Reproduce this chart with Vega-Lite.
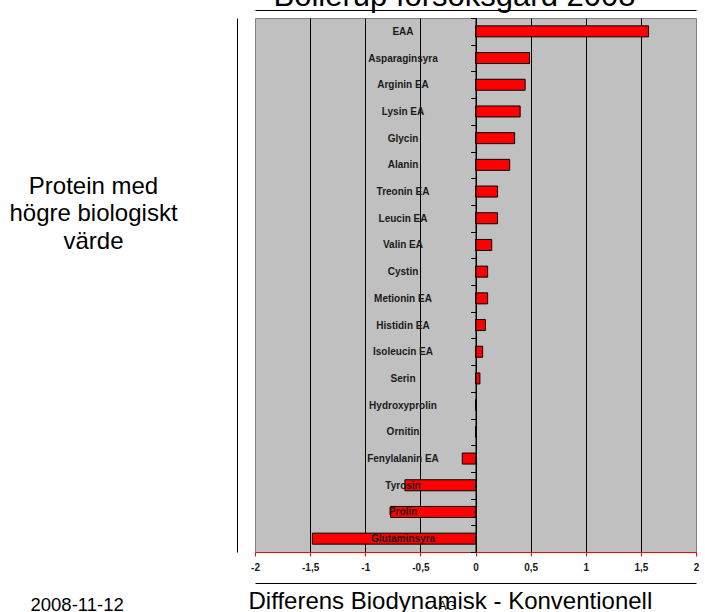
{
  "$schema": "https://vega.github.io/schema/vega-lite/v6.json",
  "width": 441,
  "height": 534,
  "autosize": {"type": "none"},
  "padding": {"left": 255, "top": 18, "right": 9, "bottom": 60},
  "background": "white",
  "config": {
    "view": {"fill": "#c0c0c0", "stroke": "#808080", "strokeWidth": 1},
    "font": "Liberation Sans"
  },
  "layer": [
    {
      "data": {
        "values": [
          {"aminosyra": "EAA", "differens": 1.57},
          {"aminosyra": "Asparaginsyra", "differens": 0.49},
          {"aminosyra": "Arginin EA", "differens": 0.45},
          {"aminosyra": "Lysin EA", "differens": 0.405},
          {"aminosyra": "Glycin", "differens": 0.355},
          {"aminosyra": "Alanin", "differens": 0.31},
          {"aminosyra": "Treonin EA", "differens": 0.2},
          {"aminosyra": "Leucin EA", "differens": 0.2},
          {"aminosyra": "Valin EA", "differens": 0.147},
          {"aminosyra": "Cystin", "differens": 0.11},
          {"aminosyra": "Metionin EA", "differens": 0.11},
          {"aminosyra": "Histidin EA", "differens": 0.09},
          {"aminosyra": "Isoleucin EA", "differens": 0.065},
          {"aminosyra": "Serin", "differens": 0.04},
          {"aminosyra": "Hydroxyprolin", "differens": 0},
          {"aminosyra": "Ornitin", "differens": 0},
          {"aminosyra": "Fenylalanin EA", "differens": -0.12},
          {"aminosyra": "Tyrosin", "differens": -0.64},
          {"aminosyra": "Prolin", "differens": -0.77},
          {"aminosyra": "Glutaminsyra", "differens": -1.48}
        ]
      },
      "mark": {"type": "bar", "fill": "#ff0000", "stroke": "black", "strokeWidth": 1, "size": 11},
      "encoding": {
        "y": {
          "field": "aminosyra",
          "type": "nominal",
          "sort": null,
          "scale": {"paddingInner": 0, "paddingOuter": 0},
          "axis": {
            "orient": "left",
            "offset": -220.5,
            "zindex": 1,
            "domainColor": "black",
            "domainWidth": 1,
            "tickBand": "extent",
            "tickColor": "black",
            "tickSize": 5,
            "labelFontSize": 10,
            "labelFontWeight": "bold",
            "labelColor": "#1a1a1a",
            "labelAlign": "center",
            "labelBaseline": "middle",
            "labelPadding": 68,
            "grid": false,
            "encode": {
              "labels": {
                "update": {
                  "dx": {"signal": "datum.value === 'EAA' ? 55 : (datum.value === 'Hydroxyprolin' ? 28 : 0)"}
                }
              }
            },
            "title": ["Protein med", "högre biologiskt", "värde"],
            "titleAngle": 0,
            "titleX": -382.5,
            "titleY": 175,
            "titleAlign": "center",
            "titleBaseline": "alphabetic",
            "titleFontSize": 24,
            "titleFontWeight": "normal",
            "titleColor": "black",
            "titleLineHeight": 27.5
          }
        },
        "x": {
          "field": "differens",
          "type": "quantitative",
          "scale": {"domain": [-2, 2], "nice": false, "zero": false},
          "axis": {
            "values": [-2, -1.5, -1, -0.5, 0, 0.5, 1, 1.5, 2],
            "labelExpr": "replace(toString(datum.value), '.', ',')",
            "labelFlush": false,
            "domainColor": "#ff0000",
            "tickColor": "#ff0000",
            "tickSize": 4,
            "labelFontSize": 10,
            "labelFontWeight": "bold",
            "labelColor": "#1a1a1a",
            "labelPadding": 6,
            "grid": true,
            "gridColor": "black",
            "gridWidth": 1,
            "gridOpacity": {"condition": {"test": "abs(datum.value) == 2", "value": 0}, "value": 1},
            "zindex": 0,
            "title": "Differens Biodynamisk - Konventionell",
            "titleX": -7,
            "titleY": 56,
            "titleAlign": "left",
            "titleAnchor": "start",
            "titleBaseline": "alphabetic",
            "titleFontSize": 24,
            "titleFontWeight": "normal",
            "titleColor": "black"
          }
        }
      }
    },
    {
      "data": {"values": [{"d": 0}]},
      "mark": {"type": "point", "opacity": 0},
      "encoding": {
        "x": {
          "field": "d",
          "type": "quantitative",
          "scale": {"domain": [0, 1]},
          "axis": {
            "orient": "top",
            "offset": 8,
            "domain": true,
            "domainColor": "black",
            "domainWidth": 1,
            "ticks": false,
            "labels": false,
            "grid": false,
            "title": "Bollerup försöksgård 2008",
            "titleX": 199,
            "titleY": -4.5,
            "titleAlign": "center",
            "titleBaseline": "alphabetic",
            "titleFontSize": 31,
            "titleFontWeight": "normal",
            "titleColor": "black"
          }
        },
        "y": {
          "field": "d",
          "type": "quantitative",
          "scale": {"domain": [0, 1]},
          "axis": {
            "orient": "left",
            "offset": 18,
            "domain": true,
            "domainColor": "black",
            "domainWidth": 1,
            "ticks": false,
            "labels": false,
            "grid": false,
            "title": "2008-11-12",
            "titleAngle": 0,
            "titleX": -207,
            "titleY": 592,
            "titleAlign": "left",
            "titleBaseline": "alphabetic",
            "titleFontSize": 18.5,
            "titleFontWeight": "normal",
            "titleColor": "black"
          }
        }
      }
    },
    {
      "data": {"values": [{"d": 0}]},
      "mark": {"type": "point", "opacity": 0},
      "encoding": {
        "x": {
          "field": "d",
          "type": "quantitative",
          "scale": {"domain": [0, 1]},
          "axis": {
            "orient": "bottom",
            "offset": 31,
            "domain": true,
            "domainColor": "black",
            "domainWidth": 1,
            "ticks": false,
            "labels": false,
            "grid": false,
            "title": "AG",
            "titleX": 183,
            "titleY": 26,
            "titleAlign": "left",
            "titleBaseline": "alphabetic",
            "titleFontSize": 12,
            "titleFontWeight": "normal",
            "titleColor": "black"
          }
        }
      }
    }
  ],
  "resolve": {"scale": {"x": "independent", "y": "independent"}}
}
